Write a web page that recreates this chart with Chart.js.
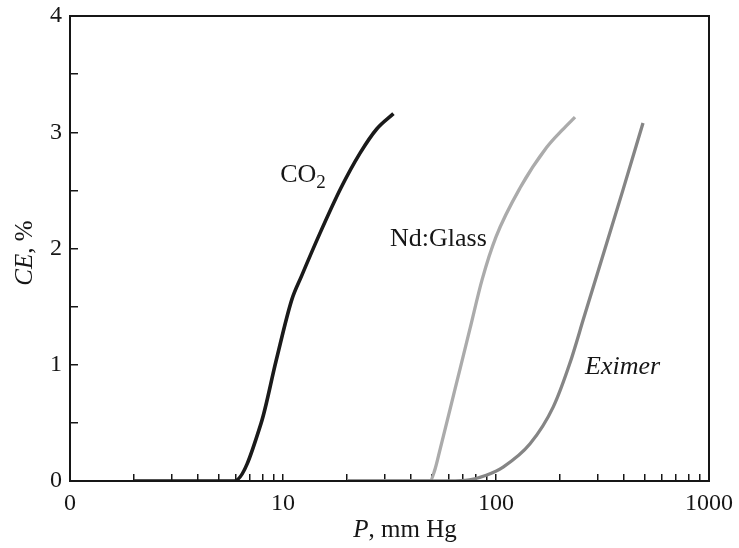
<!DOCTYPE html>
<html>
<head>
<meta charset="utf-8">
<script src="https://cdn.jsdelivr.net/npm/chart.js@4/dist/chart.umd.min.js"></script>
<style>
  body { margin: 0; background: #fff; }
  #wrap { width: 739px; height: 548px; }
</style>
</head>
<body>
<div id="wrap"><canvas id="id_chart" width="739" height="548"></canvas></div>
<script>
// --- data (P in mm Hg, CE in %) ---
var co2P  = [2, 5.9, 7.9, 9.27, 11.0, 12.2, 14.9, 18.7, 23.0, 27.6, 33.0];
var co2CE = [0, 0,   0.5, 1.03, 1.56, 1.76, 2.13, 2.52, 2.82, 3.03, 3.16];

var ndP  = [20, 49, 51.7, 54.6, 64.2, 75.5, 86,   100, 129.6, 173,  205,  235];
var ndCE = [0,  0,  0.1,  0.27, 0.79, 1.31, 1.73, 2.1, 2.52,  2.87, 3.02, 3.13];

var exP  = [20, 60, 75,   90,   108,  144.5, 186,  222,  259,  301, 394, 490];
var exCE = [0,  0,  0.01, 0.05, 0.12, 0.32,  0.64, 1.01, 1.41, 1.8, 2.5, 3.08];

// tick values / labels
var xTickValues = [1,2,3,4,5,6,7,8,9,10,20,30,40,50,60,70,80,90,100,200,300,400,500,600,700,800,900,1000];
var xTickLabels = { 1: "0", 10: "10", 100: "100", 1000: "1000" };
var yTickValues = [0, 0.5, 1, 1.5, 2, 2.5, 3, 3.5, 4];

// curve labels: text, left anchor P, CE
var curveLabelText = ["CO", "Nd:Glass", "Eximer"];
var curveLabelP    = [9.7, 31.8, 262];
var curveLabelCE   = [2.63, 2.08, 0.98];
var curveLabelItalic = [false, false, true];

var SERIF = '"Liberation Serif", "Times New Roman", serif';
var INK = "#161616";

var _toPoints = function( xs, ys ){
    var out = [];
    for( var i = 0; i < xs.length; i++ ){
        out.push({ x: xs[i], y: ys[i] });
    }
    return out;
};

// keep the plot box where the reference has it: labels may hang into the margins
var _noScalePadding = function( scale ){
    scale.paddingTop = 0;
    scale.paddingBottom = 0;
    scale.paddingLeft = 0;
    scale.paddingRight = 0;
};

var _decorations = {
    id: "decorations",
    afterDraw: function( chart ){
        var ctx = chart.ctx;
        var area = chart.chartArea;
        var sx = chart.scales.x, sy = chart.scales.y;
        ctx.save();
        // frame (top and right sides of the box)
        ctx.strokeStyle = INK;
        ctx.lineWidth = 2;
        ctx.strokeRect( area.left, area.top, area.right - area.left, area.bottom - area.top );

        ctx.fillStyle = INK;
        ctx.textBaseline = "middle";
        // curve labels
        for( var i = 0; i < curveLabelText.length; i++ ){
            var px = sx.getPixelForValue( curveLabelP[i] );
            var py = sy.getPixelForValue( curveLabelCE[i] );
            ctx.font = (curveLabelItalic[i] ? "italic " : "") + "26px " + SERIF;
            ctx.textAlign = "left";
            ctx.fillText( curveLabelText[i], px, py );
            if( curveLabelText[i] === "CO" ){
                var w = ctx.measureText("CO").width;
                ctx.font = "19px " + SERIF;
                ctx.fillText( "2", px + w, py + 8 );
            }
        }

        // x title: P, mm Hg
        ctx.font = "italic 25px " + SERIF;
        var wP = ctx.measureText("P").width;
        ctx.font = "25px " + SERIF;
        var wRest = ctx.measureText(", mm Hg").width;
        var x0 = 405 - (wP + wRest) / 2;
        ctx.textAlign = "left";
        ctx.font = "italic 25px " + SERIF;
        ctx.fillText( "P", x0, 530 );
        ctx.font = "25px " + SERIF;
        ctx.fillText( ", mm Hg", x0 + wP, 530 );

        // y title: CE, %
        ctx.translate( 25, 253 );
        ctx.rotate( -Math.PI / 2 );
        ctx.font = "italic 25px " + SERIF;
        var wCE = ctx.measureText("CE").width;
        ctx.font = "25px " + SERIF;
        var wPct = ctx.measureText(", %").width;
        var y0 = -(wCE + wPct) / 2;
        ctx.font = "italic 25px " + SERIF;
        ctx.fillText( "CE", y0, 0 );
        ctx.font = "25px " + SERIF;
        ctx.fillText( ", %", y0 + wCE, 0 );
        ctx.restore();
    }
};

window.onload = function(){
    var ctx = document.getElementById("id_chart").getContext("2d");
    new Chart( ctx, {
        type: "line",
        data: {
            datasets: [
                {
                    label: "CO2",
                    data: _toPoints( co2P, co2CE ),
                    borderColor: "#1a1a1a",
                    borderWidth: 3.6,
                    order: 1
                },
                {
                    label: "Eximer",
                    data: _toPoints( exP, exCE ),
                    borderColor: "#858585",
                    borderWidth: 3.3,
                    order: 2
                },
                {
                    label: "Nd:Glass",
                    data: _toPoints( ndP, ndCE ),
                    borderColor: "#ababab",
                    borderWidth: 3.3,
                    order: 3
                }
            ]
        },
        options: {
            responsive: false,
            animation: false,
            events: [],
            layout: { padding: { top: 16, right: 30, left: 0, bottom: 0 } },
            elements: {
                point: { radius: 0 },
                line: { cubicInterpolationMode: "monotone", fill: false, capBezierPoints: true }
            },
            plugins: {
                legend: { display: false },
                tooltip: { enabled: false }
            },
            scales: {
                x: {
                    type: "logarithmic",
                    min: 1,
                    max: 1000,
                    afterBuildTicks: function( scale ){
                        scale.ticks = xTickValues.map(function(v){ return { value: v }; });
                    },
                    afterFit: function( scale ){
                        scale.height = 67;
                        _noScalePadding( scale );
                    },
                    grid: { drawOnChartArea: false, tickLength: -7, color: INK, lineWidth: 1.5 },
                    border: { color: INK, width: 2 },
                    ticks: {
                        autoSkip: false,
                        maxRotation: 0,
                        padding: 15,
                        color: INK,
                        font: { family: SERIF, size: 24 },
                        callback: function( value ){
                            return xTickLabels[value] || "";
                        }
                    }
                },
                y: {
                    type: "linear",
                    min: 0,
                    max: 4,
                    afterBuildTicks: function( scale ){
                        scale.ticks = yTickValues.map(function(v){ return { value: v }; });
                    },
                    afterFit: function( scale ){
                        scale.width = 70;
                        _noScalePadding( scale );
                    },
                    grid: { drawOnChartArea: false, tickLength: -8, color: INK, lineWidth: 1.5 },
                    border: { color: INK, width: 2 },
                    ticks: {
                        autoSkip: false,
                        padding: 16,
                        color: INK,
                        font: { family: SERIF, size: 24 },
                        callback: function( value ){
                            return (value % 1 === 0) ? String(value) : "";
                        }
                    }
                }
            }
        },
        plugins: [ _decorations ]
    });
};
</script>
</body>
</html>
